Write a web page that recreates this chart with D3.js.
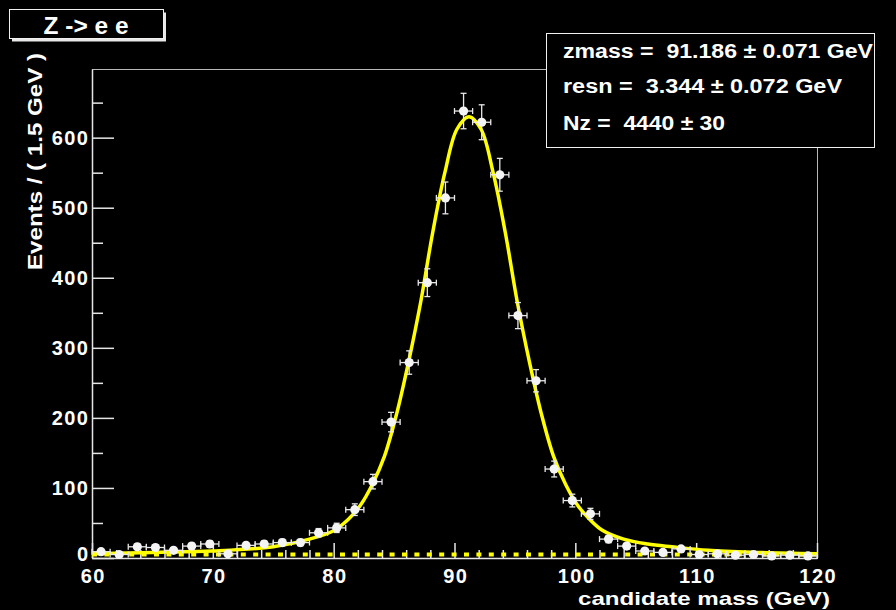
<!DOCTYPE html>
<html>
<head>
<meta charset="utf-8">
<script src="https://cdn.jsdelivr.net/npm/d3@7"></script>
<style>
  body { margin: 0; background: #000; }
  text { font-family: "Liberation Sans", Arial, sans-serif; font-weight: bold; fill: #fff; }
</style>
</head>
<body>
<div id="zPlot"></div>
<script>
// bin centres (1.5 GeV bins from 60 to 120) and events per bin
var binMass = [60.75, 62.25, 63.75, 65.25, 66.75, 68.25, 69.75, 71.25, 72.75, 74.25,
               75.75, 77.25, 78.75, 80.25, 81.75, 83.25, 84.75, 86.25, 87.75, 89.25,
               90.75, 92.25, 93.75, 95.25, 96.75, 98.25, 99.75, 101.25, 102.75, 104.25,
               105.75, 107.25, 108.75, 110.25, 111.75, 113.25, 114.75, 116.25, 117.75, 119.25];
var binEvents = [9, 5, 16, 15, 11, 17, 20, 6, 18, 20,
                 22, 22, 36, 43, 69, 109, 194, 279, 393, 514,
                 638, 622, 547, 346, 253, 127, 82, 63, 27, 17,
                 10, 8, 13, 5, 6, 4, 5, 3, 4, 3];
var binErr = [3, 2.2, 4, 3.9, 3.3, 4.1, 4.5, 2.4, 4.2, 4.5,
              4.7, 4.7, 6, 6.6, 8.3, 10.4, 13.9, 16.7, 19.8, 22.7,
              25.3, 24.9, 23.4, 18.6, 15.9, 11.3, 9.1, 7.9, 5.2, 4.1,
              3.2, 2.8, 3.6, 2.2, 2.4, 2, 2.2, 1.7, 2, 1.7];

// fitted curve
var fitMass = [60, 65, 70, 75, 78, 80, 81.2, 82.2, 83.2, 84.2, 85.2, 86.2, 87.2, 88.2, 89.2, 90.2,
               91.2, 92.2, 93.2, 94.2, 95.2, 96.2, 97.2, 98.2, 99.2, 100.2, 101.2, 102.2,
               104, 106, 108, 111, 115, 120];
var fitEvents = [6, 8, 10, 16, 27, 39, 55, 75, 105, 145, 205, 280, 365, 465, 550, 612,
                 630, 612, 550, 465, 365, 280, 205, 145, 105, 75, 55, 40,
                 27, 20, 16, 11, 8, 6];
var bkgLevel = [5, 5];
var bkgMass = [60, 120];

var xTicks = [60, 70, 80, 90, 100, 110, 120];
var yTicks = [0, 100, 200, 300, 400, 500, 600];
var statLines = ["zmass =  91.186 \u00b1 0.071 GeV", "resn =  3.344 \u00b1 0.072 GeV", "Nz =  4440 \u00b1 30"];
var titleText = "Z -> e e";
var xTitle = "candidate mass (GeV)";
var yTitle = "Events / ( 1.5 GeV )";

var W = 896, H = 610,
    frame = {left: 92, right: 817, top: 69, bottom: 558};

var x = d3.scaleLinear().domain([60, 120]).range([frame.left, frame.right]),
    y = d3.scaleLinear().domain([0, 698]).range([frame.bottom, frame.top]);

var svg = d3.select("#zPlot").append("svg")
    .attr("width", W)
    .attr("height", H)
    .style("display", "block")
    .style("background", "#000");

// frame
svg.append("rect")
    .attr("x", frame.left + 0.5).attr("y", frame.top + 0.5)
    .attr("width", frame.right - frame.left).attr("height", frame.bottom - frame.top)
    .attr("fill", "none").attr("stroke", "#b8b8b8").attr("stroke-width", 1);

// x axis, ticks pointing into the frame
var xAxis = svg.append("g")
    .attr("transform", "translate(0," + frame.bottom + ")")
    .call(d3.axisBottom(x).tickValues(xTicks).tickSizeInner(-15).tickSizeOuter(0).tickPadding(11));
svg.append("g")
    .attr("transform", "translate(0," + frame.bottom + ")")
    .call(d3.axisBottom(x).tickValues(d3.range(62, 120, 2).filter(function(d) { return d % 10 != 0; }))
        .tickSizeInner(-8).tickSizeOuter(0).tickFormat(""))
    .call(function(g) { g.select(".domain").remove(); });

var yAxis = svg.append("g")
    .attr("transform", "translate(" + frame.left + ",0)")
    .call(d3.axisLeft(y).tickValues(yTicks).tickSizeInner(-22).tickSizeOuter(0).tickPadding(4));
svg.append("g")
    .attr("transform", "translate(" + frame.left + ",0)")
    .call(d3.axisLeft(y).tickValues(d3.range(50, 700, 100)).tickSizeInner(-11).tickSizeOuter(0).tickFormat(""))
    .call(function(g) { g.select(".domain").remove(); });

svg.selectAll(".tick line").attr("stroke", "#e6e6e6").attr("stroke-width", 1.5);
svg.selectAll(".domain").attr("stroke", "#e6e6e6").attr("stroke-width", 1.5);
svg.selectAll(".tick text")
    .attr("fill", "#fff")
    .style("font-family", "'Liberation Sans', Arial, sans-serif")
    .style("font-weight", "bold")
    .style("font-size", "20px")
    .style("letter-spacing", "1.5px");
yAxis.selectAll(".tick text").attr("dx", "1.5px");
xAxis.selectAll(".tick text").attr("dx", "0.75px");
// keep the "0" clear of the "60" just below it
yAxis.selectAll(".tick text").filter(function(d) { return d == 0; }).attr("y", -4);

// background component (dashed)
svg.append("path")
    .datum(bkgMass.map(function(m, i) { return [m, bkgLevel[i]]; }))
    .attr("fill", "none")
    .attr("stroke", "#ffff00")
    .attr("stroke-width", 4)
    .attr("stroke-dasharray", "5,7.4")
    .attr("d", d3.line().x(function(d) { return x(d[0]); }).y(function(d) { return y(d[1]); }));

// full fit
svg.append("path")
    .datum(fitMass.map(function(m, i) { return [m, fitEvents[i]]; }))
    .attr("fill", "none")
    .attr("stroke", "#ffff00")
    .attr("stroke-width", 3.5)
    .attr("stroke-linejoin", "round")
    .attr("d", d3.line().curve(d3.curveCatmullRom.alpha(0.5))
        .x(function(d) { return x(d[0]); }).y(function(d) { return y(d[1]); }));

// data points with error bars
var pts = svg.append("g").selectAll("g")
    .data(binMass.map(function(m, i) { return {m: m, n: binEvents[i], e: binErr[i]}; }))
    .enter().append("g")
    .attr("stroke", "#e8e8e8")
    .attr("stroke-width", 1.3);

pts.append("line")   // horizontal: bin width
    .attr("x1", function(d) { return x(d.m - 0.75); })
    .attr("x2", function(d) { return x(d.m + 0.75); })
    .attr("y1", function(d) { return y(d.n); })
    .attr("y2", function(d) { return y(d.n); });
pts.append("line")
    .attr("x1", function(d) { return x(d.m - 0.75); })
    .attr("x2", function(d) { return x(d.m - 0.75); })
    .attr("y1", function(d) { return y(d.n) - 3; })
    .attr("y2", function(d) { return y(d.n) + 3; });
pts.append("line")
    .attr("x1", function(d) { return x(d.m + 0.75); })
    .attr("x2", function(d) { return x(d.m + 0.75); })
    .attr("y1", function(d) { return y(d.n) - 3; })
    .attr("y2", function(d) { return y(d.n) + 3; });
pts.append("line")   // vertical: stat error
    .attr("x1", function(d) { return x(d.m); })
    .attr("x2", function(d) { return x(d.m); })
    .attr("y1", function(d) { return y(d.n + d.e); })
    .attr("y2", function(d) { return y(Math.max(0, d.n - d.e)); });
pts.append("line")
    .attr("x1", function(d) { return x(d.m) - 3; })
    .attr("x2", function(d) { return x(d.m) + 3; })
    .attr("y1", function(d) { return y(d.n + d.e); })
    .attr("y2", function(d) { return y(d.n + d.e); });
pts.append("line")
    .attr("x1", function(d) { return x(d.m) - 3; })
    .attr("x2", function(d) { return x(d.m) + 3; })
    .attr("y1", function(d) { return y(Math.max(0, d.n - d.e)); })
    .attr("y2", function(d) { return y(Math.max(0, d.n - d.e)); });
pts.append("circle")
    .attr("cx", function(d) { return x(d.m); })
    .attr("cy", function(d) { return y(d.n); })
    .attr("r", 4.6)
    .attr("stroke", "none")
    .attr("fill", "#f4f4f4");

// axis titles
svg.append("text")
    .attr("x", 830).attr("y", 605)
    .attr("text-anchor", "end")
    .attr("textLength", 252).attr("lengthAdjust", "spacingAndGlyphs")
    .style("font-size", "19px")
    .text(xTitle);

svg.append("text")
    .attr("transform", "translate(42,53) rotate(-90)")
    .attr("text-anchor", "end")
    .attr("textLength", 217).attr("lengthAdjust", "spacingAndGlyphs")
    .style("font-size", "21px")
    .text(yTitle);

// title pave with shadow
svg.append("rect").attr("x", 12).attr("y", 12.5).attr("width", 154).attr("height", 29).attr("fill", "#e8e8e8");
svg.append("rect").attr("x", 9.5).attr("y", 9.5).attr("width", 154).attr("height", 29)
    .attr("fill", "#000").attr("stroke", "#f0f0f0").attr("stroke-width", 1);
svg.append("text")
    .attr("x", 86).attr("y", 34)
    .attr("text-anchor", "middle")
    .attr("textLength", 85).attr("lengthAdjust", "spacingAndGlyphs")
    .style("font-size", "23px")
    .text(titleText);

// fit parameter box
svg.append("rect").attr("x", 546.5).attr("y", 33.5).attr("width", 328).attr("height", 114)
    .attr("fill", "#000").attr("stroke", "#f0f0f0").attr("stroke-width", 1);
var statLen = [310, 279, 162],
    statY = [58, 93, 130];
svg.append("g").selectAll("text")
    .data(statLines)
    .enter().append("text")
    .attr("x", 563)
    .attr("y", function(d, i) { return statY[i]; })
    .attr("textLength", function(d, i) { return statLen[i]; })
    .attr("lengthAdjust", "spacingAndGlyphs")
    .style("white-space", "pre")
    .style("font-size", "20px")
    .text(function(d) { return d; });
</script>
</body>
</html>
